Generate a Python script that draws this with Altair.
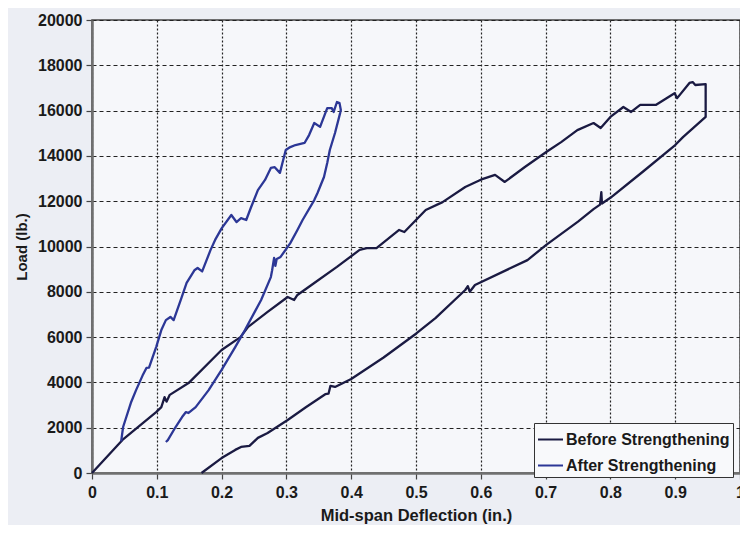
import altair as alt
import pandas as pd

series_names = ["Before Strengthening", "After Strengthening"]
series_colors = ["#1a1a42", "#2c3796"]

before_x = [0, 0.047, 0.099, 0.107, 0.112, 0.115, 0.12, 0.149, 0.2, 0.229, 0.241, 0.271, 0.302, 0.312,
            0.317, 0.343, 0.378, 0.413, 0.424, 0.439, 0.451, 0.474, 0.482, 0.5, 0.515, 0.541, 0.576,
            0.6, 0.622, 0.637, 0.668, 0.701, 0.724, 0.749, 0.774, 0.785, 0.8, 0.82, 0.832, 0.846,
            0.87, 0.899, 0.903, 0.922, 0.927, 0.931, 0.947, 0.947, 0.912, 0.9, 0.85, 0.8, 0.787,
            0.786, 0.784, 0.774, 0.75, 0.701, 0.672, 0.591, 0.583, 0.58, 0.576, 0.53, 0.5, 0.45,
            0.4, 0.375, 0.368, 0.365, 0.36, 0.33, 0.302, 0.271, 0.256, 0.243, 0.23, 0.221, 0.2, 0.169]
before_y = [0, 1460, 2690, 2910, 3350, 3150, 3450, 3970, 5430, 6000, 6450, 7110, 7770, 7640,
            7860, 8390, 9100, 9850, 9930, 9930, 10200, 10730, 10640, 11170, 11610, 11960, 12630,
            12950, 13160, 12850, 13510, 14170, 14610, 15140, 15450, 15230, 15720, 16160, 15940, 16250,
            16250, 16770, 16550, 17220, 17260, 17130, 17170, 15720, 14830, 14480, 13300, 12150, 11900,
            12400, 11850, 11650, 11100, 10070, 9400, 8300, 8000, 8250, 8080, 6840, 6150, 5100,
            4150, 3800, 3850, 3500, 3480, 2900, 2340, 1770, 1550, 1200, 1150, 1020, 660, 0]

after_x = [0.045, 0.048, 0.06, 0.068, 0.078, 0.084, 0.088, 0.099, 0.107, 0.114, 0.121, 0.126, 0.137,
           0.146, 0.158, 0.163, 0.17, 0.183, 0.19, 0.2, 0.215, 0.223, 0.23, 0.238, 0.245, 0.256,
           0.267, 0.276, 0.282, 0.29, 0.299, 0.306, 0.314, 0.328, 0.335, 0.343, 0.352, 0.363, 0.37,
           0.373, 0.378, 0.382, 0.384, 0.383, 0.375, 0.367, 0.363, 0.358, 0.348, 0.343, 0.325, 0.317,
           0.306, 0.291, 0.285, 0.283, 0.281, 0.278, 0.276, 0.261, 0.236, 0.221, 0.2, 0.18, 0.16,
           0.149, 0.145, 0.139, 0.129, 0.117, 0.114]
after_y = [1400, 2030, 3100, 3660, 4300, 4640, 4650, 5560, 6310, 6750, 6890, 6750, 7640,
           8390, 8950, 9050, 8900, 9850, 10290, 10800, 11390, 11080, 11250, 11170, 11700, 12490,
           12940, 13470, 13500, 13250, 14260, 14390, 14480, 14570, 14920, 15450, 15280, 16110, 16110,
           15940, 16380, 16330, 16030, 15900, 15010, 14260, 13690, 13070, 12360, 12050, 11170, 10730,
           10150, 9540, 9450, 9150, 9500, 8950, 8650, 7640, 6310, 5560, 4550, 3660, 2910,
           2650, 2690, 2470, 2030, 1450, 1370]

x_ticks = [0, 0.1, 0.2, 0.3, 0.4, 0.5, 0.6, 0.7, 0.8, 0.9, 1.0]
y_ticks = [0, 2000, 4000, 6000, 8000, 10000, 12000, 14000, 16000, 18000, 20000]

rows = []
for i, (x, y) in enumerate(zip(before_x, before_y)):
    rows.append({"series": series_names[0], "x": x, "y": y, "i": i})
for i, (x, y) in enumerate(zip(after_x, after_y)):
    rows.append({"series": series_names[1], "x": x, "y": y, "i": i})
df = pd.DataFrame(rows)

FONT = "Liberation Sans"

chart = alt.Chart(df).mark_line(strokeWidth=2.3, strokeJoin="round").encode(
    x=alt.X("x:Q", scale=alt.Scale(domain=[0, 1], nice=False, zero=False),
            axis=alt.Axis(values=x_ticks, format="~g", title="Mid-span Deflection (in.)",
                          titleFontSize=16.5)),
    y=alt.Y("y:Q", scale=alt.Scale(domain=[0, 20000], nice=False),
            axis=alt.Axis(values=y_ticks, format="d", title="Load (lb.)")),
    color=alt.Color("series:N", sort=series_names,
                    scale=alt.Scale(domain=series_names, range=series_colors),
                    legend=alt.Legend(orient="none", legendX=442, legendY=403, title=None,
                                      symbolType="stroke", symbolSize=625, symbolStrokeWidth=2,
                                      labelFont=FONT, labelFontSize=16, labelFontWeight="bold",
                                      labelColor="#1a1a1a", labelOffset=2, labelLimit=400,
                                      strokeColor="#333333", fillColor="#f8f9fb", padding=3,
                                      rowPadding=4)),
    order=alt.Order("i:Q"),
).properties(
    width=648, height=453,
    autosize=alt.AutoSizeParams(type="none"),
    padding={"left": 84, "top": 12, "right": 0, "bottom": 52},
    background="#eceef4",
).configure_view(
    fill="#f6f7fa", stroke="#444444", strokeWidth=1.5
).configure_axis(
    domainColor="#707070", domainWidth=2.5, tickColor="#444444", tickSize=6, tickWidth=1.2,
    labelFont=FONT, labelFontSize=16, labelFontWeight="bold", labelColor="#1a1a1a",
    titleFont=FONT, titleFontSize=15, titleFontWeight="bold", titleColor="#1a1a1a",
    gridColor="#222222", gridWidth=1.2, gridOpacity=1,
).configure_axisX(
    gridDash=[2, 2], labelPadding=5, titlePadding=7, labelFlush=False, labelOverlap=False
).configure_axisY(
    gridDash=[4, 3], labelPadding=4, titlePadding=8
)

chart.save("out.html", embed_options={"renderer": "svg", "actions": False})
